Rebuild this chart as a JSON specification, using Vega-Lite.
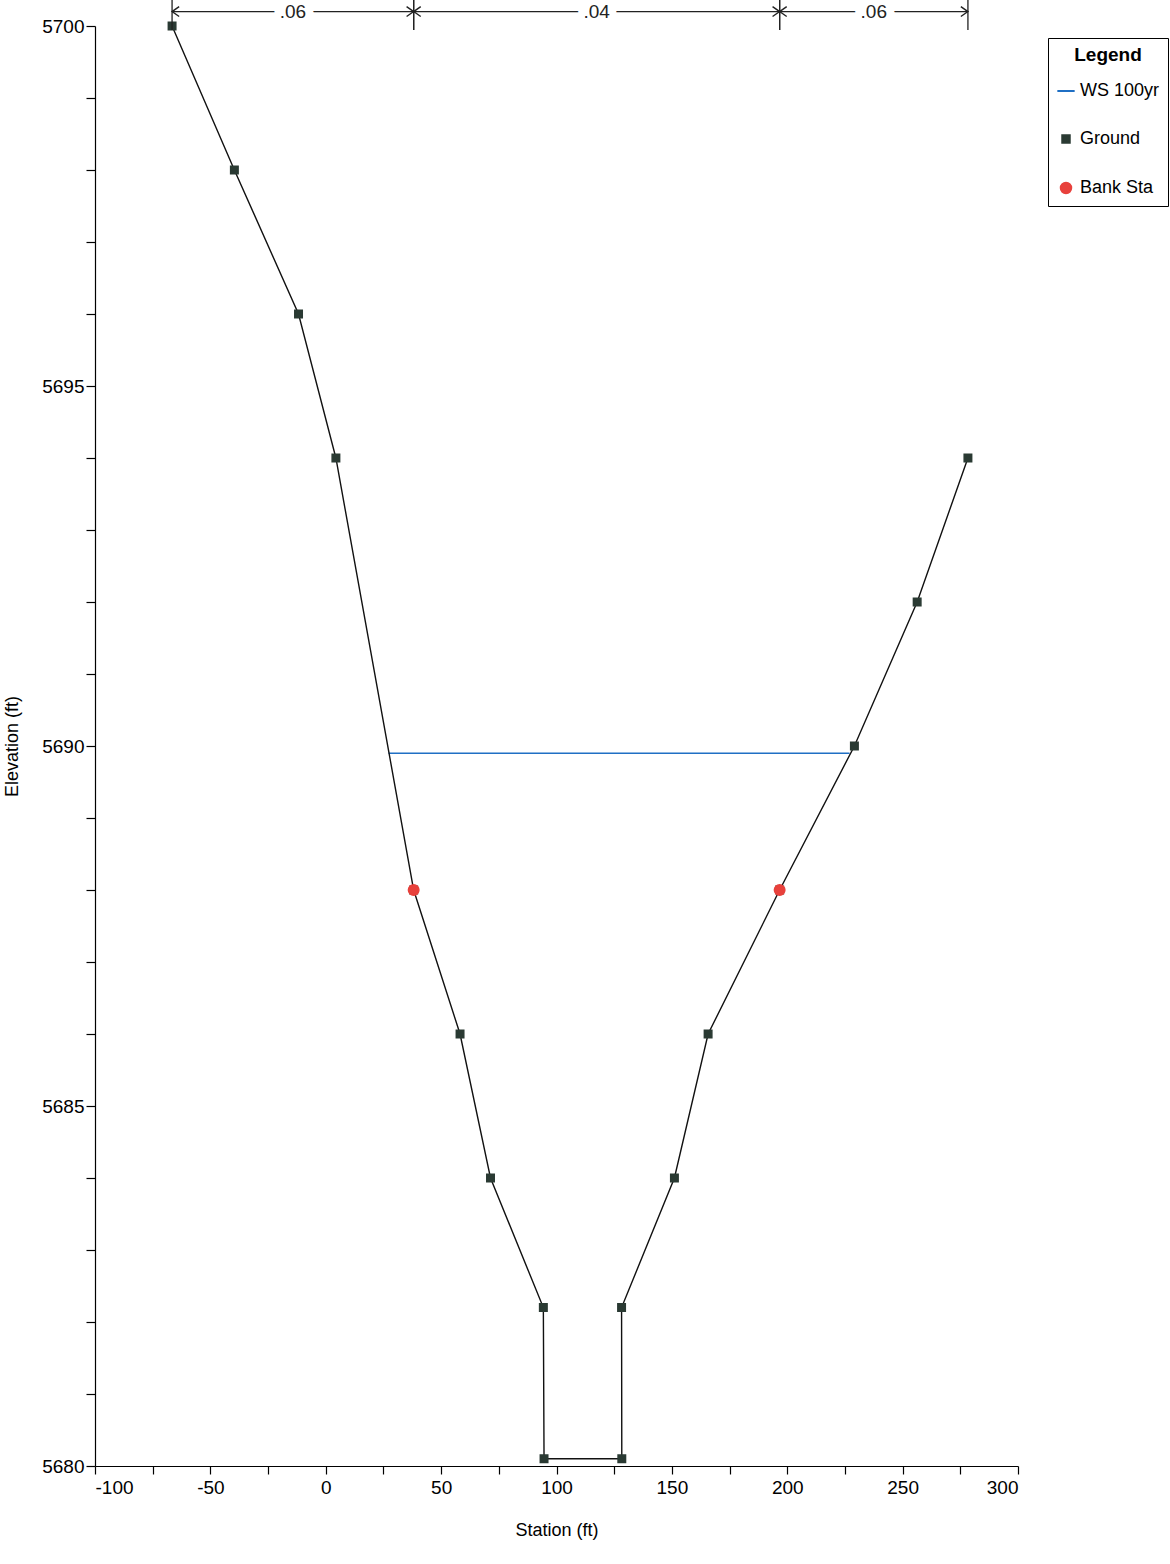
{
  "$schema": "https://vega.github.io/schema/vega-lite/v6.json",
  "autosize": "none",
  "width": 923,
  "height": 1440,
  "padding": {"left": 95, "top": 26, "right": 152, "bottom": 98},
  "background": "white",
  "config": {
    "view": {"stroke": null},
    "font": "Liberation Sans",
    "axis": {"grid": false, "domainColor": "black", "tickColor": "black", "labelColor": "black", "titleColor": "black", "labelFont": "Liberation Sans", "titleFont": "Liberation Sans", "labelFontSize": 19, "titleFontSize": 18, "titleFontWeight": "normal", "domainWidth": 1.2, "tickWidth": 1.2},
    "legend": {"labelFont": "Liberation Sans", "titleFont": "Liberation Sans"}
  },
  "datasets": {
    "xs": [
      {"series": "Ground", "i": 1, "station": -66.6, "elev": 5700.0},
      {"series": "Ground", "i": 2, "station": -39.6, "elev": 5698.0},
      {"series": "Ground", "i": 3, "station": -11.8, "elev": 5696.0},
      {"series": "Ground", "i": 4, "station": 4.4, "elev": 5694.0},
      {"series": "Ground", "i": 5, "station": 38.1, "elev": 5688.0},
      {"series": "Ground", "i": 6, "station": 58.2, "elev": 5686.0},
      {"series": "Ground", "i": 7, "station": 71.4, "elev": 5684.0},
      {"series": "Ground", "i": 8, "station": 94.3, "elev": 5682.2},
      {"series": "Ground", "i": 9, "station": 94.6, "elev": 5680.1},
      {"series": "Ground", "i": 10, "station": 128.3, "elev": 5680.1},
      {"series": "Ground", "i": 11, "station": 128.2, "elev": 5682.2},
      {"series": "Ground", "i": 12, "station": 151.1, "elev": 5684.0},
      {"series": "Ground", "i": 13, "station": 165.7, "elev": 5686.0},
      {"series": "Ground", "i": 14, "station": 196.7, "elev": 5688.0},
      {"series": "Ground", "i": 15, "station": 229.1, "elev": 5690.0},
      {"series": "Ground", "i": 16, "station": 256.3, "elev": 5692.0},
      {"series": "Ground", "i": 17, "station": 278.3, "elev": 5694.0},
      {"series": "WS 100yr", "i": 1, "station": 27.2, "elev": 5689.9},
      {"series": "WS 100yr", "i": 2, "station": 227.0, "elev": 5689.9},
      {"series": "Bank Sta", "i": 1, "station": 38.1, "elev": 5688.0},
      {"series": "Bank Sta", "i": 2, "station": 196.7, "elev": 5688.0}
    ],
    "nvals": [
      {"n": ".06", "from": -66.6, "to": 38.1, "top": 5700.2},
      {"n": ".04", "from": 38.1, "to": 196.7, "top": 5700.2},
      {"n": ".06", "from": 196.7, "to": 278.3, "top": 5700.2}
    ]
  },
  "layer": [
    {
      "data": {"name": "xs"},
      "transform": [{"filter": "datum.series === 'WS 100yr'"}],
      "mark": {"type": "line", "color": "#1f6fc4", "strokeWidth": 1.6},
      "encoding": {
        "x": {"field": "station", "type": "quantitative", "scale": {"domain": [-100, 300], "nice": false, "zero": false},
          "axis": {"title": "Station (ft)", "values": [-100, -75, -50, -25, 0, 25, 50, 75, 100, 125, 150, 175, 200, 225, 250, 275, 300], "labelExpr": "datum.value % 50 === 0 ? '' + datum.value : ''", "tickSize": 8, "labelPadding": 4, "titlePadding": 24}},
        "y": {"field": "elev", "type": "quantitative", "scale": {"domain": [5680, 5700], "nice": false, "zero": false},
          "axis": {"title": "Elevation (ft)", "values": [5680, 5681, 5682, 5683, 5684, 5685, 5686, 5687, 5688, 5689, 5690, 5691, 5692, 5693, 5694, 5695, 5696, 5697, 5698, 5699, 5700], "labelExpr": "datum.value % 5 === 0 ? '' + datum.value : ''", "tickSize": 9, "labelPadding": 2, "titlePadding": 20}},
        "order": {"field": "i"}
      }
    },
    {
      "data": {"name": "xs"},
      "transform": [{"filter": "datum.series === 'Ground'"}],
      "mark": {"type": "line", "color": "#111111", "strokeWidth": 1.4},
      "encoding": {
        "x": {"field": "station", "type": "quantitative"},
        "y": {"field": "elev", "type": "quantitative"},
        "order": {"field": "i"}
      }
    },
    {
      "data": {"name": "xs"},
      "transform": [{"filter": "datum.series !== 'WS 100yr'"}],
      "mark": {"type": "point", "filled": true, "opacity": 1, "strokeWidth": 1.5},
      "encoding": {
        "x": {"field": "station", "type": "quantitative"},
        "y": {"field": "elev", "type": "quantitative"},
        "color": {"field": "series", "type": "nominal", "scale": {"domain": ["WS 100yr", "Ground", "Bank Sta"], "range": ["#1f6fc4", "#2a3a33", "#e8413c"]},
          "legend": {"title": "Legend", "orient": "none", "legendX": 953, "legendY": 12, "strokeColor": "black", "fillColor": "white", "padding": 8, "titleFontSize": 19, "titleFontWeight": "bold", "labelFontSize": 18, "titleAnchor": "middle", "rowPadding": 30, "titlePadding": 16, "symbolStrokeWidth": 2, "labelOffset": 4}},
        "stroke": {"field": "series", "type": "nominal", "scale": {"domain": ["WS 100yr", "Ground", "Bank Sta"], "range": ["#1f6fc4", "#2a3a33", "#e8413c"]}},
        "shape": {"field": "series", "type": "nominal", "scale": {"domain": ["WS 100yr", "Ground", "Bank Sta"], "range": ["stroke", "square", "circle"]}},
        "size": {"field": "series", "type": "nominal", "scale": {"type": "ordinal", "domain": ["WS 100yr", "Ground", "Bank Sta"], "range": [300, 56, 110]}}
      }
    },
    {
      "data": {"name": "nvals"},
      "mark": {"type": "rule", "color": "#222222", "strokeWidth": 1.3},
      "encoding": {"x": {"field": "from", "type": "quantitative"}, "x2": {"field": "to"}, "y": {"field": "top", "type": "quantitative"}}
    },
    {
      "data": {"name": "nvals"},
      "mark": {"type": "rule", "color": "#222222", "strokeWidth": 1.3, "y": -26, "y2": 4},
      "encoding": {"x": {"field": "from", "type": "quantitative"}}
    },
    {
      "data": {"name": "nvals"},
      "mark": {"type": "rule", "color": "#222222", "strokeWidth": 1.3, "y": -26, "y2": 4},
      "encoding": {"x": {"field": "to", "type": "quantitative"}}
    },
    {
      "data": {"name": "nvals"},
      "mark": {"type": "point", "shape": "M 1 -0.7 L 0 0 L 1 0.7", "filled": false, "stroke": "#222222", "strokeWidth": 1.4, "size": 200, "opacity": 1},
      "encoding": {"x": {"field": "from", "type": "quantitative"}, "y": {"field": "top", "type": "quantitative"}}
    },
    {
      "data": {"name": "nvals"},
      "mark": {"type": "point", "shape": "M -1 -0.7 L 0 0 L -1 0.7", "filled": false, "stroke": "#222222", "strokeWidth": 1.4, "size": 200, "opacity": 1},
      "encoding": {"x": {"field": "to", "type": "quantitative"}, "y": {"field": "top", "type": "quantitative"}}
    },
    {
      "data": {"name": "nvals"},
      "transform": [{"calculate": "(datum.from + datum.to) / 2", "as": "mid"}],
      "mark": {"type": "text", "fontSize": 19, "font": "Liberation Sans", "stroke": "white", "strokeWidth": 14, "fill": "white", "baseline": "middle"},
      "encoding": {"x": {"field": "mid", "type": "quantitative"}, "y": {"field": "top", "type": "quantitative"}, "text": {"field": "n"}}
    },
    {
      "data": {"name": "nvals"},
      "transform": [{"calculate": "(datum.from + datum.to) / 2", "as": "mid"}],
      "mark": {"type": "text", "fontSize": 19, "font": "Liberation Sans", "fill": "#222222", "baseline": "middle"},
      "encoding": {"x": {"field": "mid", "type": "quantitative"}, "y": {"field": "top", "type": "quantitative"}, "text": {"field": "n"}}
    }
  ]
}
